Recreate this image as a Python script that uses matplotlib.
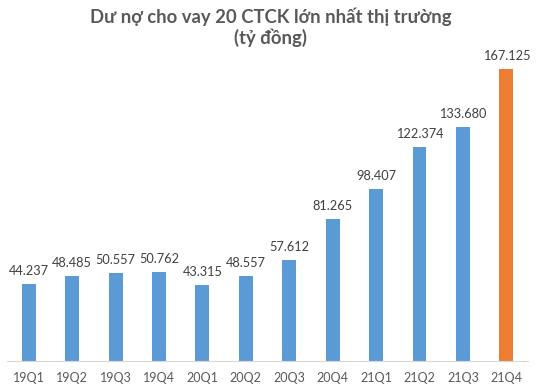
import matplotlib
matplotlib.use("Agg")
import matplotlib.pyplot as plt

plt.rcParams["font.family"] = ["Lato", "Noto Sans", "DejaVu Sans"]

quarters = ["19Q1", "19Q2", "19Q3", "19Q4", "20Q1", "20Q2",
            "20Q3", "20Q4", "21Q1", "21Q2", "21Q3", "21Q4"]
values = [44.237, 48.485, 50.557, 50.762, 43.315, 48.557,
          57.612, 81.265, 98.407, 122.374, 133.680, 167.125]
labels = ["44.237", "48.485", "50.557", "50.762", "43.315", "48.557",
          "57.612", "81.265", "98.407", "122.374", "133.680", "167.125"]

blue = "#5B9BD5"
orange = "#ED7D31"
colors = [blue] * (len(values) - 1) + [orange]

fig = plt.figure(figsize=(5.41, 3.90), dpi=100)
ax = fig.add_axes([0.013, 0.074, 0.963, 0.807])

x = range(len(values))
bars = ax.bar(x, values, width=0.32, color=colors)

for xi, v, lab in zip(x, values, labels):
    ax.annotate(lab, (xi, v), xytext=(0, 5), textcoords="offset points",
                ha="center", va="bottom", fontsize=9.2, color="#404040")

ax.set_xlim(-0.5, len(values) - 0.5)
ax.set_ylim(0, 180)
ax.set_xticks(list(x))
ax.set_xticklabels(quarters, fontsize=9, color="#595959")
ax.tick_params(axis="x", length=0, pad=8)
ax.set_yticks([])

for side in ["top", "right", "left"]:
    ax.spines[side].set_visible(False)
ax.spines["bottom"].set_color("#D9D9D9")

fig.text(0.5, 0.982, "Dư nợ cho vay 20 CTCK lớn nhất thị trường\n(tỷ đồng)",
         ha="center", va="top", fontsize=13.3, fontweight="bold",
         color="#595959", linespacing=1.2)

fig.savefig("out.png", dpi=100)
